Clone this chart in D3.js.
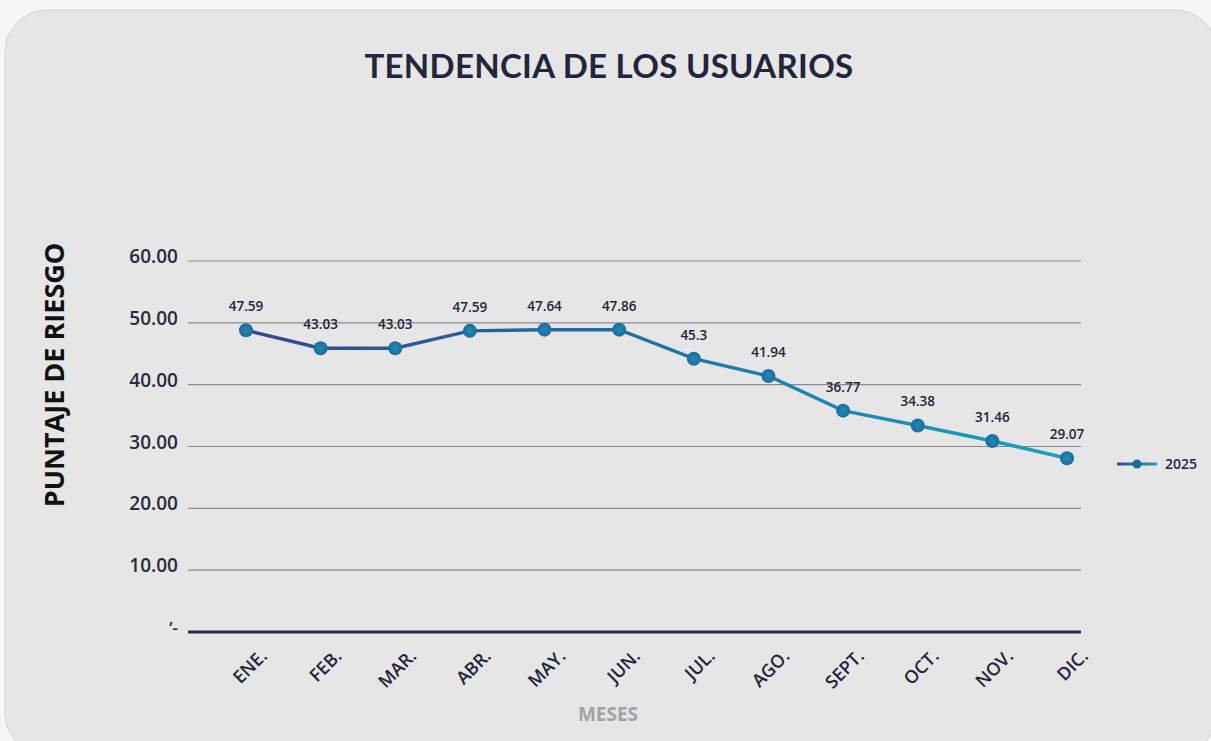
<!DOCTYPE html>
<html>
<head>
<meta charset="utf-8">
<script src="https://cdn.jsdelivr.net/npm/d3@7"></script>
<style>
  html, body { margin: 0; padding: 0; background: #f6f6f6; }
  svg { display: block; font-family: "Open Sans", Lato, sans-serif; }
</style>
</head>
<body>
<div id="chart"></div>
<script>
// datos
var meses = ["ENE.", "FEB.", "MAR.", "ABR.", "MAY.", "JUN.", "JUL.", "AGO.", "SEPT.", "OCT.", "NOV.", "DIC."];
var puntaje = [48.8, 45.9, 45.9, 48.7, 48.9, 48.9, 44.2, 41.4, 35.8, 33.4, 30.9, 28.1];
var etiquetas = ["47.59", "43.03", "43.03", "47.59", "47.64", "47.86", "45.3", "41.94", "36.77", "34.38", "31.46", "29.07"];
var ticksY = [10, 20, 30, 40, 50, 60];
var serie = "2025";

var width = 1211, height = 741;

var svg = d3.select("#chart").append("svg")
    .attr("width", width)
    .attr("height", height);

// panel de fondo
svg.append("rect")
    .attr("x", 5).attr("y", 10)
    .attr("width", 1212).attr("height", 745)
    .attr("rx", 42).attr("ry", 42)
    .style("fill", "#e6e6e6")
    .style("stroke", "#d4d4d4");

var x = d3.scalePoint().domain(meses).range([246, 1067]);
var y = d3.scaleLinear().domain([0, 60]).range([632, 261]);

var defs = svg.append("defs");
var grad = defs.append("linearGradient")
    .attr("id", "lineGrad")
    .attr("gradientUnits", "userSpaceOnUse")
    .attr("x1", 246).attr("x2", 1067).attr("y1", 0).attr("y2", 0);
grad.append("stop").attr("offset", "0%").attr("stop-color", "#35488c");
grad.append("stop").attr("offset", "45%").attr("stop-color", "#236ea3");
grad.append("stop").attr("offset", "100%").attr("stop-color", "#1aa3bd");

var dotGrad = defs.append("radialGradient").attr("id", "dotGrad");
dotGrad.append("stop").attr("offset", "0%").attr("stop-color", "#1a8fb0");
dotGrad.append("stop").attr("offset", "100%").attr("stop-color", "#1f6aa0");

var legGrad = defs.append("linearGradient").attr("id", "legGrad")
    .attr("gradientUnits", "userSpaceOnUse")
    .attr("x1", 1117).attr("x2", 1157).attr("y1", 0).attr("y2", 0);
legGrad.append("stop").attr("offset", "0%").attr("stop-color", "#35488c");
legGrad.append("stop").attr("offset", "100%").attr("stop-color", "#1aa3bd");

// titulo
svg.append("text")
    .attr("x", 609).attr("y", 78)
    .attr("text-anchor", "middle")
    .style("font-family", "Lato, sans-serif")
    .style("font-size", "33px")
    .style("font-weight", "700")
    .style("letter-spacing", "0.3px")
    .style("fill", "#23253b")
    .text("TENDENCIA DE LOS USUARIOS");

// rejilla
svg.selectAll(".grid").data(ticksY).enter().append("line")
    .attr("x1", 188).attr("x2", 1081)
    .attr("y1", function(d) { return y(d); })
    .attr("y2", function(d) { return y(d); })
    .style("stroke", "#8a8a8f")
    .style("stroke-width", 1.2);

svg.selectAll(".ylab").data(ticksY).enter().append("text")
    .attr("x", 178)
    .attr("y", function(d) { return y(d) + 2; })
    .attr("text-anchor", "end")
    .style("font-size", "19px")
    .style("font-weight", "600")
    .style("fill", "#2a2b3d")
    .text(function(d) { return d3.format(".2f")(d); });

svg.append("text")
    .attr("x", 178).attr("y", y(0) + 2)
    .attr("text-anchor", "end")
    .style("font-size", "17px")
    .style("font-weight", "600")
    .style("fill", "#2a2b3d")
    .text("\u2019-");

// eje x
svg.append("line")
    .attr("x1", 188).attr("x2", 1081)
    .attr("y1", y(0)).attr("y2", y(0))
    .style("stroke", "#2b2d42")
    .style("stroke-width", 3);

svg.selectAll(".xlab").data(meses).enter().append("text")
    .attr("transform", function(d) { return "translate(" + (x(d) + 13) + ",648) rotate(-45)"; })
    .attr("text-anchor", "end")
    .attr("dy", "0.72em")
    .style("font-size", "18px")
    .style("font-weight", "600")
    .style("fill", "#23253b")
    .text(function(d) { return d; });

svg.append("text")
    .attr("x", 608).attr("y", 721)
    .attr("text-anchor", "middle")
    .style("font-size", "19px")
    .style("font-weight", "700")
    .style("fill", "#a3a3a6")
    .text("MESES");

svg.append("text")
    .attr("transform", "translate(64,375) rotate(-90)")
    .attr("text-anchor", "middle")
    .style("font-size", "27px")
    .style("font-weight", "700")
    .style("fill", "#111111")
    .text("PUNTAJE DE RIESGO");

// linea
var line = d3.line()
    .x(function(d, i) { return x(meses[i]); })
    .y(function(d) { return y(d); });

svg.append("path")
    .datum(puntaje)
    .attr("d", line)
    .style("fill", "none")
    .style("stroke", "url(#lineGrad)")
    .style("stroke-width", 3.5);

svg.selectAll(".dot").data(puntaje).enter().append("circle")
    .attr("cx", function(d, i) { return x(meses[i]); })
    .attr("cy", function(d) { return y(d); })
    .attr("r", 7)
    .style("fill", "url(#dotGrad)");

svg.selectAll(".val").data(puntaje).enter().append("text")
    .attr("x", function(d, i) { return x(meses[i]); })
    .attr("y", function(d) { return y(d) - 19; })
    .attr("text-anchor", "middle")
    .style("font-size", "13.5px")
    .style("font-weight", "600")
    .style("fill", "#23253b")
    .text(function(d, i) { return etiquetas[i]; });

// leyenda
svg.append("line")
    .attr("x1", 1117).attr("x2", 1157)
    .attr("y1", 464).attr("y2", 464)
    .style("stroke", "url(#legGrad)")
    .style("stroke-width", 3);
svg.append("circle")
    .attr("cx", 1137).attr("cy", 464).attr("r", 4.5)
    .style("fill", "#1f6aa0");
svg.append("text")
    .attr("x", 1165).attr("y", 469)
    .style("font-size", "14px")
    .style("font-weight", "600")
    .style("fill", "#23253b")
    .text(serie);
</script>
</body>
</html>
